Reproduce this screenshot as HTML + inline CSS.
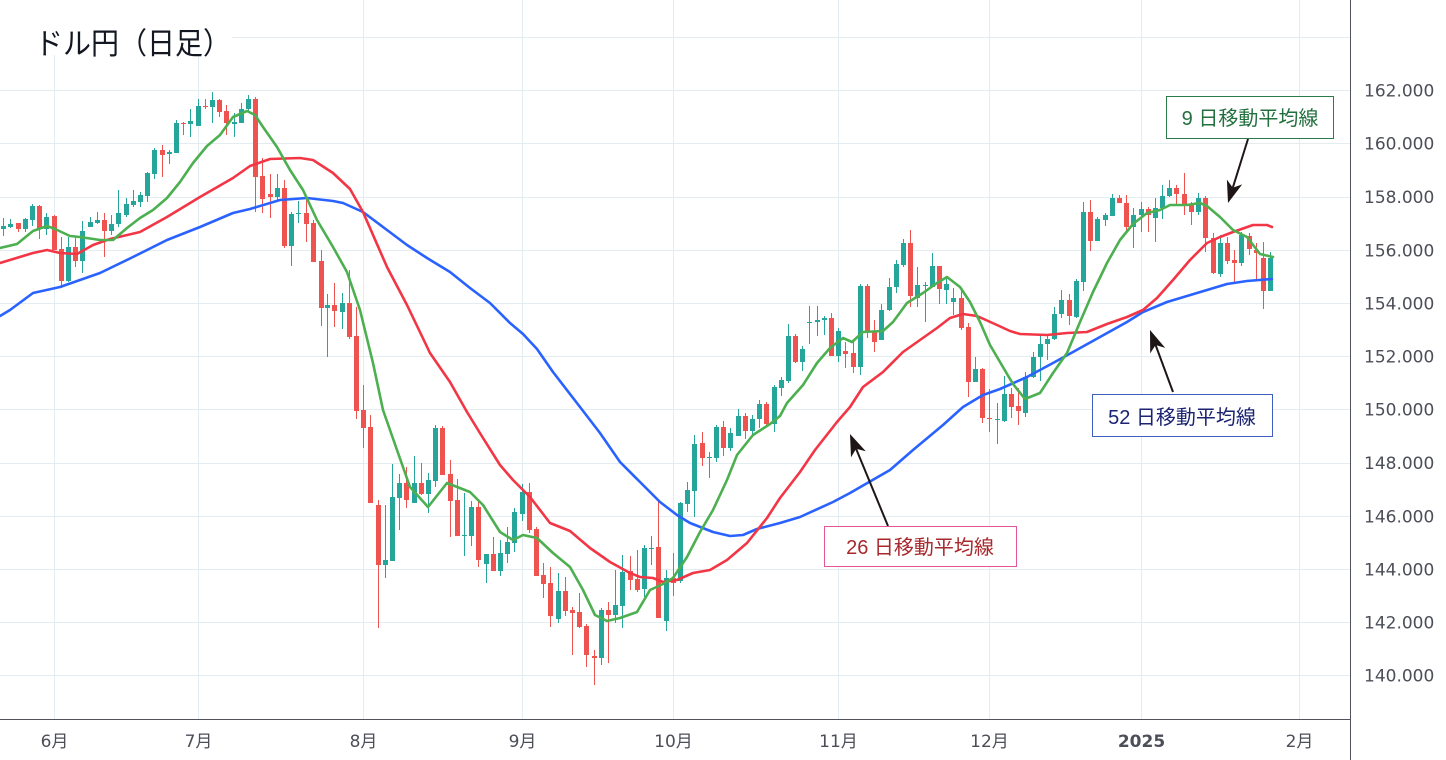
<!DOCTYPE html>
<html><head><meta charset="utf-8"><style>
html,body{margin:0;padding:0;background:#fff;}
svg{display:block;}
.ax{font-family:"DejaVu Sans","Liberation Sans","Noto Sans CJK JP",sans-serif;font-size:17px;fill:#4c4e58;}
.mo{font-family:"DejaVu Sans","Liberation Sans","Noto Sans CJK JP",sans-serif;font-size:17px;fill:#4c4e58;text-anchor:middle;}
.lbl{font-family:"Liberation Sans","Noto Sans CJK JP",sans-serif;font-size:20px;text-anchor:middle;}
</style></head><body>
<svg width="1446" height="760" viewBox="0 0 1446 760" xmlns="http://www.w3.org/2000/svg">
<rect width="1446" height="760" fill="#fff"/>
<g stroke="#e3edf1" stroke-width="1">
<path d="M0 37.5H1350M0 90.5H1350M0 143.5H1350M0 197.5H1350M0 250.5H1350M0 303.5H1350M0 356.5H1350M0 409.5H1350M0 463.5H1350M0 516.5H1350M0 569.5H1350M0 622.5H1350M0 675.5H1350"/>
<path d="M54.5 0V719M198.5 0V719M363.5 0V719M522.5 0V719M673.5 0V719M838.5 0V719M989.5 0V719M1141.5 0V719M1299.5 0V719"/>
</g>
<rect x="0" y="0" width="232" height="55" fill="#fff"/>
<text x="35" y="54" font-family="'Noto Sans CJK JP',sans-serif" font-size="30" fill="#131722" textLength="196" lengthAdjust="spacingAndGlyphs">ドル円（日足）</text>

<g stroke-width="1" fill="none">
<path stroke="#26a69a" d="M3.5 218V236M10.5 219V228M25.5 218V232M32.5 204V226M46.5 213V235M68.5 237V282M82.5 221V273M90.5 217V227M97.5 212V224M111.5 215V235M118.5 190V227M126.5 198V217M133.5 190V207M140.5 192V207M147.5 172V202M154.5 148V179M169.5 150V164M176.5 120V153M190.5 109V137M198.5 99V126M212.5 92V123M234.5 113V137M241.5 103V123M248.5 95V112M277.5 174V200M291.5 212V266M298.5 201V223M327.5 294V357M342.5 293V329M385.5 505V578M392.5 464V561M399.5 474V530M414.5 456V503M428.5 473V513M435.5 425V487M464.5 493V556M471.5 501V546M486.5 554V583M500.5 540V576M507.5 527V563M514.5 508V552M522.5 484V521M558.5 573V623M601.5 608V665M615.5 570V623M622.5 555V628M644.5 545V597M651.5 536V565M666.5 570V631M680.5 502V583M687.5 482V512M694.5 435V517M709.5 452V478M716.5 425V462M730.5 428V451M738.5 409V436M752.5 415V437M759.5 400V428M774.5 385V432M781.5 377V396M788.5 324V383M802.5 346V371M809.5 306V344M817.5 306V336M824.5 316V335M838.5 328V362M860.5 284V375M881.5 304V340M889.5 278V311M896.5 260V293M903.5 239V267M917.5 267V307M925.5 282V322M932.5 253V287M946.5 278V304M953.5 288V315M975.5 357V382M997.5 403V444M1004.5 376V422M1025.5 372V417M1033.5 352V378M1040.5 335V381M1047.5 334V360M1054.5 307V340M1061.5 290V318M1076.5 279V318M1083.5 202V291M1097.5 217V241M1105.5 213V226M1112.5 194V216M1133.5 208V248M1141.5 202V232M1155.5 198V242M1162.5 185V219M1169.5 180V197M1198.5 193V215M1220.5 235V277M1241.5 232V266M1270.5 252V291"/>
<path stroke="#ef5350" d="M18.5 223V232M39.5 205V239M54.5 215V250M61.5 237V288M75.5 237V267M104.5 213V257M162.5 145V177M183.5 122V135M205.5 99V109M219.5 99V117M226.5 105V135M255.5 97V212M262.5 158V213M270.5 174V218M284.5 180V248M306.5 197V242M313.5 220V262M321.5 250V326M334.5 283V327M349.5 270V339M356.5 307V419M363.5 385V448M370.5 415V503M378.5 500V628M406.5 467V508M421.5 463V495M442.5 426V475M450.5 460V537M457.5 479V536M478.5 502V567M493.5 537V571M529.5 483V533M536.5 527V576M543.5 563V598M550.5 567V627M565.5 577V616M572.5 607V655M579.5 593V628M586.5 624V667M594.5 650V685M608.5 602V663M630.5 556V590M637.5 550V592M658.5 502V618M673.5 553V596M702.5 432V466M723.5 421V456M745.5 413V439M766.5 402V426M795.5 334V363M831.5 313V356M845.5 342V368M853.5 342V373M867.5 284V338M874.5 320V352M910.5 230V307M939.5 266V304M961.5 290V330M968.5 323V397M982.5 368V423M989.5 389V432M1011.5 388V418M1018.5 388V425M1069.5 294V325M1090.5 200V251M1119.5 195V203M1126.5 195V232M1148.5 207V232M1176.5 185V206M1184.5 173V215M1191.5 202V225M1205.5 196V252M1213.5 233V274M1227.5 237V264M1234.5 250V282M1249.5 233V255M1256.5 243V280M1263.5 242V309"/>
</g>
<path fill="#26a69a" d="M1 226h5V229h-5ZM8 224h5V227h-5ZM23 219h5V229h-5ZM30 206h5V220h-5ZM44 217h5V229h-5ZM66 247h5V281h-5ZM80 231h5V261h-5ZM88 222h5V227h-5ZM95 220h5V223h-5ZM109 224h5V231h-5ZM116 213h5V224h-5ZM124 204h5V215h-5ZM131 201h5V205h-5ZM138 195h5V202h-5ZM145 173h5V196h-5ZM152 150h5V174h-5ZM167 152h5V154h-5ZM174 123h5V153h-5ZM188 121h5V124h-5ZM196 106h5V126h-5ZM210 100h5V107h-5ZM232 122h5V124h-5ZM239 109h5V123h-5ZM246 99h5V109h-5ZM275 188h5V197h-5ZM289 214h5V246h-5ZM296 213h5V214h-5ZM325 305h5V308h-5ZM340 303h5V312h-5ZM383 560h5V565h-5ZM390 497h5V561h-5ZM397 483h5V498h-5ZM412 483h5V503h-5ZM426 480h5V494h-5ZM433 428h5V481h-5ZM462 535h5V536h-5ZM469 507h5V536h-5ZM484 554h5V564h-5ZM498 553h5V571h-5ZM505 542h5V554h-5ZM512 512h5V543h-5ZM520 492h5V514h-5ZM556 591h5V619h-5ZM599 610h5V658h-5ZM613 605h5V615h-5ZM620 572h5V606h-5ZM642 548h5V589h-5ZM649 548h5V549h-5ZM664 578h5V621h-5ZM678 503h5V581h-5ZM685 490h5V504h-5ZM692 444h5V491h-5ZM707 457h5V458h-5ZM714 427h5V458h-5ZM728 433h5V448h-5ZM736 416h5V436h-5ZM750 419h5V431h-5ZM757 404h5V419h-5ZM772 387h5V424h-5ZM779 380h5V388h-5ZM786 336h5V381h-5ZM800 349h5V362h-5ZM807 322h5V323h-5ZM815 320h5V322h-5ZM822 318h5V320h-5ZM836 331h5V356h-5ZM858 286h5V367h-5ZM879 310h5V340h-5ZM887 287h5V310h-5ZM894 264h5V287h-5ZM901 243h5V265h-5ZM915 285h5V298h-5ZM923 285h5V286h-5ZM930 266h5V287h-5ZM944 284h5V290h-5ZM951 298h5V302h-5ZM973 369h5V382h-5ZM995 419h5V420h-5ZM1002 394h5V421h-5ZM1023 377h5V413h-5ZM1031 357h5V377h-5ZM1038 344h5V357h-5ZM1045 339h5V344h-5ZM1052 314h5V339h-5ZM1059 300h5V314h-5ZM1074 281h5V317h-5ZM1081 212h5V282h-5ZM1095 219h5V241h-5ZM1103 215h5V220h-5ZM1110 198h5V216h-5ZM1131 215h5V227h-5ZM1139 209h5V215h-5ZM1153 208h5V218h-5ZM1160 196h5V208h-5ZM1167 188h5V196h-5ZM1196 198h5V212h-5ZM1218 243h5V274h-5ZM1239 235h5V263h-5ZM1268 258h5V291h-5Z"/>
<path fill="#ef5350" d="M16 223h5V229h-5ZM37 206h5V229h-5ZM52 216h5V250h-5ZM59 249h5V281h-5ZM73 247h5V261h-5ZM102 220h5V231h-5ZM160 150h5V155h-5ZM181 123h5V124h-5ZM203 106h5V107h-5ZM217 100h5V112h-5ZM224 111h5V123h-5ZM253 99h5V177h-5ZM260 176h5V199h-5ZM268 194h5V197h-5ZM282 188h5V246h-5ZM304 213h5V224h-5ZM311 223h5V262h-5ZM319 261h5V308h-5ZM332 305h5V311h-5ZM347 303h5V337h-5ZM354 336h5V411h-5ZM361 410h5V428h-5ZM368 427h5V503h-5ZM376 505h5V565h-5ZM404 483h5V500h-5ZM419 483h5V494h-5ZM440 428h5V475h-5ZM448 474h5V501h-5ZM455 500h5V536h-5ZM476 507h5V560h-5ZM491 554h5V571h-5ZM527 492h5V530h-5ZM534 529h5V576h-5ZM541 575h5V584h-5ZM548 583h5V616h-5ZM563 591h5V611h-5ZM570 610h5V613h-5ZM577 612h5V627h-5ZM584 626h5V655h-5ZM592 656h5V658h-5ZM606 610h5V615h-5ZM628 571h5V580h-5ZM635 579h5V590h-5ZM656 547h5V618h-5ZM671 578h5V583h-5ZM700 443h5V458h-5ZM721 427h5V448h-5ZM743 416h5V431h-5ZM764 404h5V424h-5ZM793 336h5V362h-5ZM829 318h5V356h-5ZM843 351h5V354h-5ZM851 353h5V367h-5ZM865 286h5V332h-5ZM872 331h5V342h-5ZM908 243h5V296h-5ZM937 266h5V289h-5ZM959 298h5V328h-5ZM966 327h5V382h-5ZM980 369h5V418h-5ZM987 418h5V419h-5ZM1009 394h5V407h-5ZM1016 406h5V411h-5ZM1067 300h5V316h-5ZM1088 212h5V241h-5ZM1117 198h5V203h-5ZM1124 203h5V227h-5ZM1146 209h5V215h-5ZM1174 188h5V194h-5ZM1182 194h5V205h-5ZM1189 205h5V212h-5ZM1203 198h5V238h-5ZM1211 238h5V273h-5ZM1225 243h5V261h-5ZM1232 260h5V263h-5ZM1247 236h5V249h-5ZM1254 250h5V253h-5ZM1261 258h5V291h-5Z"/>

<g fill="none" stroke-width="2.6" stroke-linejoin="round" stroke-linecap="round">
<polyline stroke="#2962ff" points="0,316 10,310 33,293 60,287 100,273 133,257 167,240 200,227 233,213 250,209 280,200 307,198 333,201 343,203 363,212 387,230 407,245 427,258 450,272 470,288 490,303 510,323 523,334 537,349 553,372 580,407 600,433 620,462 640,482 660,502 677,515 690,523 713,532 730,536 743,535 757,529 780,523 800,517 833,502 850,493 890,470 913,450 943,425 963,407 983,395 1000,389 1027,377 1053,363 1073,352 1100,337 1127,322 1143,312 1167,302 1187,296 1207,290 1227,284 1247,281 1272,279"/>
<polyline stroke="#f23645" points="0,263 33,253 47,250 60,253 77,254 93,245 110,239 140,232 167,217 200,197 233,178 250,166 270,159 300,158 313,160 333,173 350,189 363,212 387,267 407,305 430,353 450,382 467,412 483,438 500,465 513,480 530,497 550,523 570,531 590,548 610,562 630,573 640,577 653,578 663,582 677,580 693,573 710,570 727,560 747,543 767,518 780,498 800,472 815,450 837,422 850,407 863,387 883,372 903,352 920,340 937,328 950,318 963,314 977,316 997,325 1010,331 1020,334 1047,335 1067,333 1087,332 1107,324 1127,317 1143,310 1157,298 1173,280 1190,260 1207,243 1220,237 1233,232 1253,225 1267,225 1272,227"/>
<polyline stroke="#4caf50" points="0,248 17,244 33,231 47,226 55,229 70,236 80,237 100,240 113,240 127,228 140,218 153,210 167,198 180,182 193,163 207,146 220,135 233,117 247,111 255,115 263,127 277,147 290,170 303,190 317,220 333,247 347,272 360,310 373,363 383,410 397,450 410,487 428,507 447,483 470,492 483,505 500,532 513,540 523,535 537,538 553,553 570,567 583,590 595,615 607,621 620,618 637,612 650,590 663,584 673,578 687,557 700,532 713,510 727,480 737,455 753,435 770,424 780,416 787,403 803,385 817,363 830,348 843,338 852,342 863,332 883,331 893,322 907,303 923,293 937,283 947,277 960,287 970,302 980,322 990,345 1000,362 1013,384 1025,399 1040,393 1053,373 1067,353 1080,322 1093,292 1107,263 1120,240 1133,224 1147,213 1160,210 1170,205 1187,205 1200,203 1207,206 1220,217 1233,230 1247,237 1260,254 1273,257"/>
</g>

<g stroke="#1e1616" stroke-width="2" fill="#1e1616">
<line x1="1248" y1="139" x2="1232.8" y2="187.7"/>
<polygon stroke="none" points="1228,203 1242.2,184.4 1232.8,187.7 1226.9,179.6"/>
<line x1="1173" y1="392" x2="1155.6" y2="345"/>
<polygon stroke="none" points="1150,330 1165.2,347.9 1155.6,345 1150.2,353.4"/>
<line x1="888" y1="526" x2="856.1" y2="448.8"/>
<polygon stroke="none" points="850,434 865.8,451.3 856.1,448.8 851,457.4"/>
</g>

<rect x="1166.5" y="96.5" width="167" height="42" fill="#fff" stroke="#2b7a4b" stroke-width="1"/>
<text class="lbl" x="1250" y="125" fill="#23703f">9 日移動平均線</text>
<rect x="1092.5" y="394.5" width="180" height="42" fill="#fff" stroke="#3f5fc0" stroke-width="1"/>
<text class="lbl" x="1182" y="424" fill="#1b2372">52 日移動平均線</text>
<rect x="824.5" y="526.5" width="192" height="40" fill="#fff" stroke="#e5559b" stroke-width="1"/>
<text class="lbl" x="920" y="554" fill="#a8282c">26 日移動平均線</text>

<rect x="1351" y="0" width="95" height="760" fill="#fff"/>
<rect x="0" y="720" width="1351" height="40" fill="#fff"/>
<path d="M0 719.5H1350.5M1350.5 0V760" stroke="#50535e" stroke-width="1" fill="none"/>

<g class="ax">
<text x="1364" y="96.5">162.000</text>
<text x="1364" y="149.5">160.000</text>
<text x="1364" y="203">158.000</text>
<text x="1364" y="256.5">156.000</text>
<text x="1364" y="309.5">154.000</text>
<text x="1364" y="362.5">152.000</text>
<text x="1364" y="415.5">150.000</text>
<text x="1364" y="469">148.000</text>
<text x="1364" y="522.5">146.000</text>
<text x="1364" y="575.5">144.000</text>
<text x="1364" y="628.5">142.000</text>
<text x="1364" y="681.5">140.000</text>
</g>
<g class="mo">
<text x="54.5" y="747">6月</text>
<text x="198.5" y="747">7月</text>
<text x="363.5" y="747">8月</text>
<text x="522.5" y="747">9月</text>
<text x="673.5" y="747">10月</text>
<text x="838.5" y="747">11月</text>
<text x="989.5" y="747">12月</text>
<text x="1141.5" y="747" font-weight="bold">2025</text>
<text x="1299.5" y="747">2月</text>
</g>
</svg>
</body></html>
